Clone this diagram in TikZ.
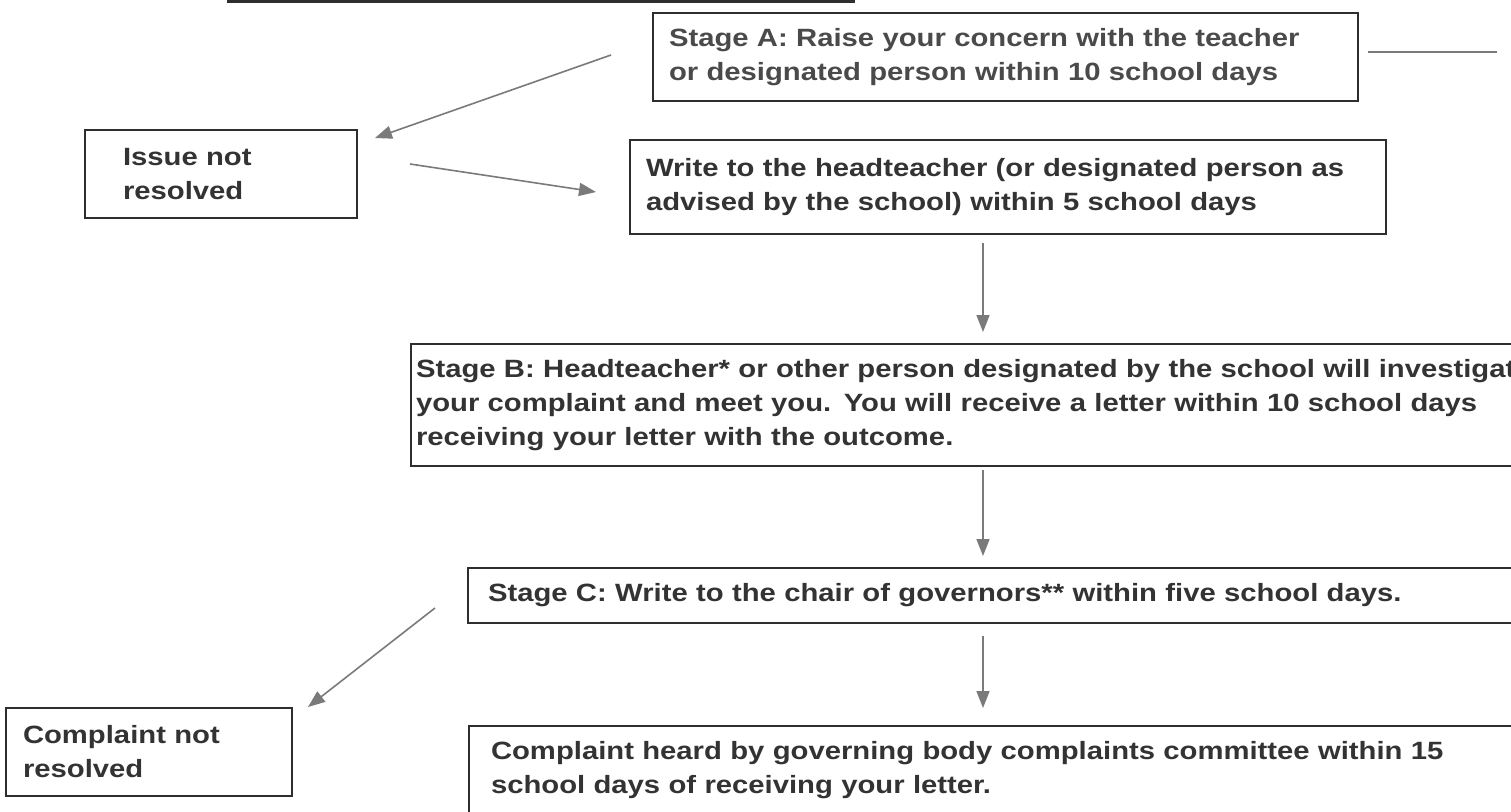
\documentclass[tikz,border=0pt]{standalone}
\usepackage{fontspec}
\setmainfont{Liberation Sans}[FakeStretch=1.17]
\usetikzlibrary{arrows.meta}
\definecolor{boxc}{HTML}{2E2E2E}
\definecolor{txtc}{HTML}{333333}
\definecolor{txtA}{HTML}{4A4A4A}
\definecolor{arrc}{HTML}{7A7A7A}
\begin{document}
\begin{tikzpicture}[x=1pt,y=-1pt,
  box/.style={draw=boxc, line width=2pt, anchor=north west, align=left,
    font=\bfseries\fontsize{25}{34}\selectfont, text=txtc, inner ysep=0pt},
  arr/.style={draw=arrc, line width=1.6pt, -{Triangle[length=17pt,width=13pt]}},
  plain/.style={draw=arrc, line width=1.6pt},
]
\useasboundingbox (0,0) rectangle (1511,811);
\clip (0,0) rectangle (1511,811);
\coordinate (t1) at (227,1);
\coordinate (t2) at (855,1);
\draw[line width=3pt, draw=boxc] (t1) -- (t2);

\node[box, minimum width=705pt, minimum height=88pt, text width=673pt, inner xsep=16pt, text=txtA] (A) at (652,12)
  {Stage A: Raise your concern with the teacher\\or designated person within 10 school days};
\node[box, minimum width=272pt, minimum height=88pt, text width=196pt, inner xsep=38pt] (I) at (84,129)
  {Issue not\\resolved};
\node[box, minimum width=756pt, minimum height=94pt, text width=724pt, inner xsep=16pt] (W) at (629,139)
  {Write to the headteacher (or designated person as\\advised by the school) within 5 school days};
\node[box, minimum width=1200pt, minimum height=122pt, text width=1190pt, inner xsep=5pt] (B) at (410,343)
  {Stage B: Headteacher* or other person designated by the school will investigate\\your complaint and meet you. You will receive a letter within 10 school days\\receiving your letter with the outcome.};
\node[box, minimum width=1100pt, minimum height=55pt, text width=1060pt, inner xsep=20pt] (C) at (467,567)
  {Stage C: Write to the chair of governors** within five school days.};
\node[box, minimum width=286pt, minimum height=88pt, text width=252pt, inner xsep=17pt] (N) at (5,707)
  {Complaint not\\resolved};
\node[box, minimum width=1100pt, minimum height=88pt, text width=1056pt, inner xsep=22pt] (H) at (468,725)
  {Complaint heard by governing body complaints committee within 15\\school days of receiving your letter.};

\coordinate (r1) at (1368,52);
\coordinate (r2) at (1497,52);
\draw[plain] (r1) -- (r2);

\coordinate (a1s) at (611,55);  \coordinate (a1e) at (375,138);
\coordinate (a2s) at (410,164); \coordinate (a2e) at (596,192);
\coordinate (a3s) at (983,243); \coordinate (a3e) at (983,332);
\coordinate (a4s) at (983,470); \coordinate (a4e) at (983,556);
\coordinate (a5s) at (435,608); \coordinate (a5e) at (308,707);
\coordinate (a6s) at (983,636); \coordinate (a6e) at (983,708);
\draw[arr] (a1s) -- (a1e);
\draw[arr] (a2s) -- (a2e);
\draw[arr] (a3s) -- (a3e);
\draw[arr] (a4s) -- (a4e);
\draw[arr] (a5s) -- (a5e);
\draw[arr] (a6s) -- (a6e);
\end{tikzpicture}
\end{document}
